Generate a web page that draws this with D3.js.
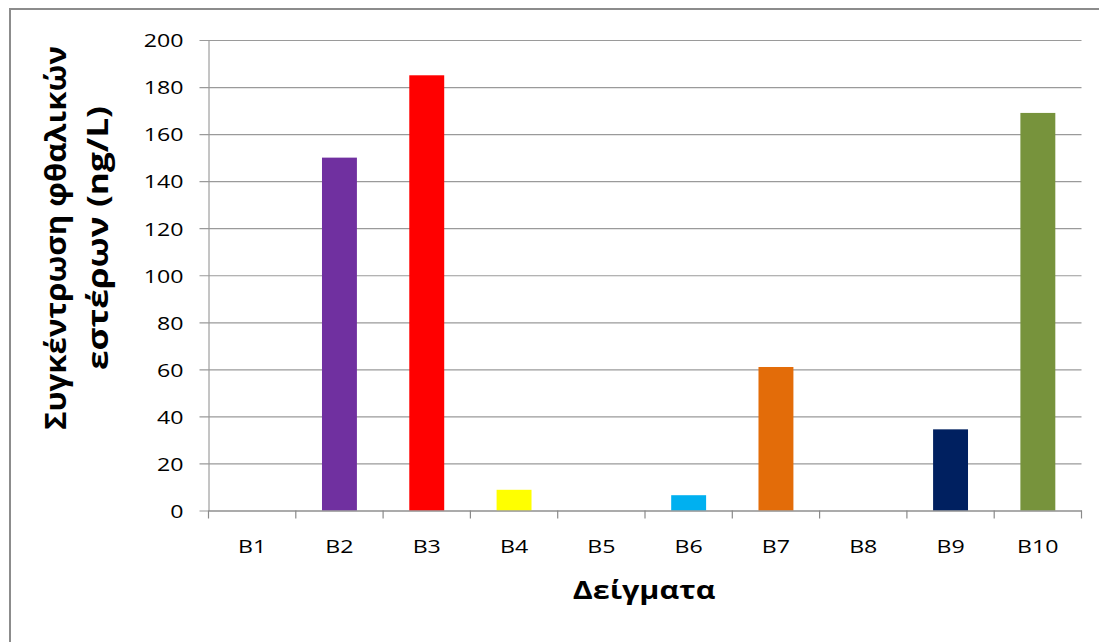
<!DOCTYPE html>
<html>
<head>
<meta charset="utf-8">
<script src="https://cdn.jsdelivr.net/npm/d3@7"></script>
<style>
  html, body { margin: 0; padding: 0; background: #fff; }
  svg { display: block; }
  text { font-family: "Open Sans", "Noto Sans", sans-serif; fill: #000; }
</style>
</head>
<body>
<svg id="chart" width="1099" height="642"></svg>
<script>
// Samples and measured phthalate ester concentrations (ng/L)
const categories = ["B1", "B2", "B3", "B4", "B5", "B6", "B7", "B8", "B9", "B10"];
const values = [0, 150, 185, 8.8, 0, 6.5, 61, 0, 34.5, 169];
const barColors = ["#7030A0", "#7030A0", "#FF0000", "#FFFF00", "#00B0F0", "#00B0F0",
                   "#E36C09", "#002060", "#002060", "#77933C"];
const yTicks = [0, 20, 40, 60, 80, 100, 120, 140, 160, 180, 200];
const yTitleLines = ["Συγκέντρωση φθαλικών", "εστέρων (ng/L)"];
const xTitle = "Δείγματα";

const W = 1099, H = 642;
const plot = { left: 208.5, right: 1081.5, top: 40, bottom: 510.5 };
const SX = 1.22; // horizontal text stretch

const svg = d3.select("#chart");

// outer frame
svg.append("rect")
  .attr("x", 10).attr("y", 9)
  .attr("width", W + 20).attr("height", H + 20)
  .attr("fill", "none").attr("stroke", "#8c8c8c").attr("stroke-width", 2);

const x = d3.scaleBand().domain(categories)
  .range([plot.left, plot.right]).paddingInner(0).paddingOuter(0);
const y = d3.scaleLinear().domain([0, 200]).range([plot.bottom, plot.top]);

// y axis with gridlines
const yAxis = svg.append("g")
  .attr("transform", `translate(${plot.left},0)`)
  .call(d3.axisLeft(y).tickValues(yTicks).tickSize(0).tickPadding(0));
yAxis.select(".domain").attr("stroke", "#8a8a8a").attr("stroke-width", 1);
yAxis.selectAll(".tick line")
  .attr("x1", -9).attr("x2", plot.right - plot.left)
  .attr("stroke", "#9a9a9a").attr("stroke-width", 1.2);
yAxis.selectAll(".tick text")
  .attr("x", null).attr("dy", "0.36em")
  .attr("text-anchor", "end")
  .attr("transform", `translate(-25,0) scale(${SX},1)`)
  .style("font-size", "19px").attr("fill", "#000");

// bars
const bw = x.bandwidth() / 2.5;
svg.append("g").selectAll("rect")
  .data(categories.map((c, i) => ({ c, v: values[i], col: barColors[i] })))
  .join("rect")
  .attr("x", d => x(d.c) + (x.bandwidth() - bw) / 2)
  .attr("width", bw)
  .attr("y", d => y(d.v))
  .attr("height", d => y(0) - y(d.v))
  .attr("fill", d => d.col);

// x axis
const xAxis = svg.append("g")
  .attr("transform", `translate(0,${plot.bottom})`)
  .call(d3.axisBottom(x).tickSize(0).tickPadding(0));
xAxis.select(".domain").attr("stroke", "#8a8a8a").attr("stroke-width", 1.2);
xAxis.selectAll(".tick text")
  .attr("y", null).attr("dy", null)
  .attr("transform", `translate(0,42) scale(${SX},1)`)
  .style("font-size", "19px").attr("fill", "#000");
// category boundary ticks
const bounds = categories.map(c => x(c)).concat([plot.right]);
xAxis.selectAll(".bound").data(bounds).join("line")
  .attr("class", "bound")
  .attr("x1", d => d).attr("x2", d => d)
  .attr("y1", 0).attr("y2", 8)
  .attr("stroke", "#8a8a8a").attr("stroke-width", 1.2);

// x title
svg.append("text")
  .attr("transform", `translate(644,599) scale(${SX},1)`)
  .attr("text-anchor", "middle")
  .style("font-size", "25px").style("font-weight", "bold")
  .text(xTitle);

// y title (two lines, rotated)
const yTitleLengths = [384, 264];
const yTitle = svg.append("g")
  .attr("transform", `translate(0,238) rotate(-90)`);
yTitle.selectAll("text").data(yTitleLines).join("text")
  .attr("x", (d, i) => -yTitleLengths[i] / 2)
  .attr("y", (d, i) => (i === 0 ? 66 : 108))
  .attr("textLength", (d, i) => yTitleLengths[i])
  .attr("lengthAdjust", "spacingAndGlyphs")
  .style("font-size", "29px").style("font-weight", "bold")
  .text(d => d);
</script>
</body>
</html>
